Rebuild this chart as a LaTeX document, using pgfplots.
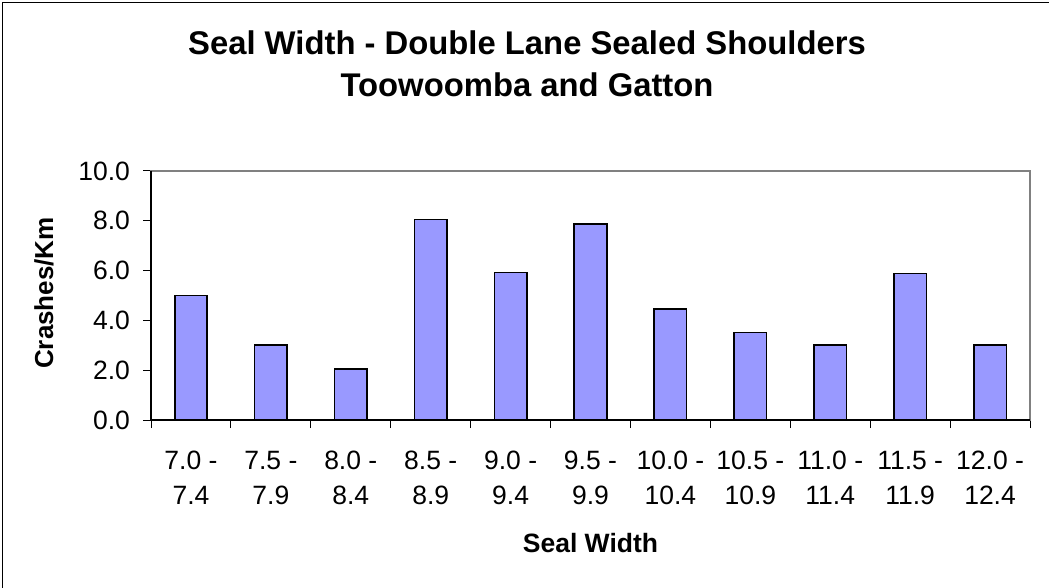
\documentclass[border=0pt]{standalone}
\usepackage{pgfplots}
\pgfplotsset{compat=1.18}
\usepackage{fontspec}
\setmainfont{Liberation Sans}
\definecolor{barfill}{HTML}{9999FF}
\definecolor{framegray}{HTML}{808080}

% crashes per km for each seal-width band
\pgfplotstableread{
idx crashes
0  5.00
1  3.00
2  2.05
3  8.05
4  5.92
5  7.87
6  4.46
7  3.51
8  3.00
9  5.88
10 3.00
}\sealdata

\newcommand{\ticksize}{\fontsize{13.25bp}{17.2bp}\selectfont}

\begin{document}
\begin{tikzpicture}
\useasboundingbox (0,0) rectangle (524.5bp,294bp);
% chart area border (left and top edges)
\draw[black, line width=0.7bp] (1.25bp,0) -- (1.25bp,292.75bp) -- (524.5bp,292.75bp);

% titles
\node[anchor=base, inner sep=0pt, font=\fontsize{16.4bp}{20bp}\selectfont\bfseries] at (263.5bp,266.5bp) {Seal Width - Double Lane Sealed Shoulders};
\node[anchor=base, inner sep=0pt, font=\fontsize{16.4bp}{20bp}\selectfont\bfseries] at (263.5bp,245.5bp) {Toowoomba and Gatton};

\begin{axis}[
  at={(75.5bp,84bp)}, anchor=south west,
  scale only axis, width=439.5bp, height=124.5bp,
  xmin=-0.5, xmax=10.5, ymin=0, ymax=10,
  ybar, bar width=16.25bp,
  axis line style={framegray, line width=0.7bp},
  tick align=outside, major tick length=4bp, tick pos=left,
  tick style={black, line width=0.5bp},
  ytick={0,2,...,10},
  yticklabel style={xshift=-3bp, /pgf/number format/.cd, fixed, fixed zerofill, precision=1, assume math mode=true},
  tick label style={font=\ticksize},
  xtick={-0.5,0.5,...,10.5},
  xticklabels={},
  extra x ticks={0,1,...,10},
  extra x tick labels={{7.0 -\\7.4},{7.5 -\\7.9},{8.0 -\\8.4},{8.5 -\\8.9},{9.0 -\\9.4},{9.5 -\\9.9},{10.0 -\\10.4},{10.5 -\\10.9},{11.0 -\\11.4},{11.5 -\\11.9},{12.0 -\\12.4}},
  extra x tick style={major tick length=0pt, tick label style={align=center, anchor=north, inner sep=0pt, yshift=-15.5bp}},
  clip=false,
  after end axis/.code={
    \draw[black, line width=0.7bp] (rel axis cs:0,1) -- (rel axis cs:0,0) -- (rel axis cs:1,0);
  },
]
\addplot[fill=barfill, draw=black, line width=0.8bp] table[x=idx, y=crashes] {\sealdata};
\end{axis}

% axis titles
\node[anchor=base, rotate=90, inner sep=0pt, font=\fontsize{13bp}{16bp}\selectfont\bfseries] at (26.5bp,147.5bp) {Crashes/Km};
\node[anchor=base, inner sep=0pt, font=\fontsize{13.25bp}{16bp}\selectfont\bfseries] at (295.25bp,17.85bp) {Seal Width};
\end{tikzpicture}
\end{document}
